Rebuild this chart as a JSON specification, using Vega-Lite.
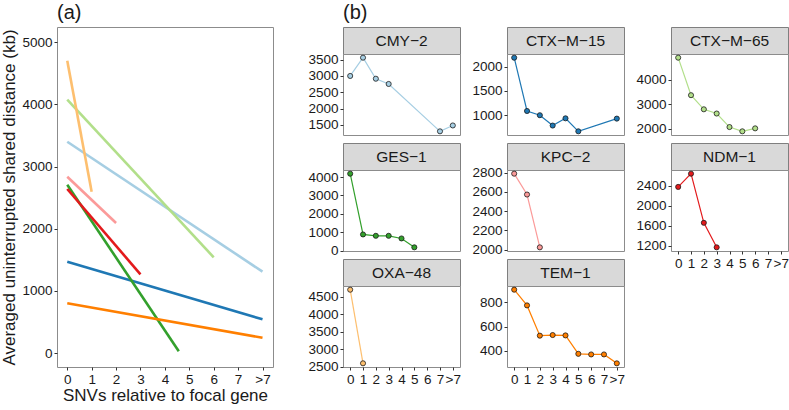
{
  "$schema": "https://vega.github.io/schema/vega-lite/v6.json",
  "padding": {"left": 0, "top": 2, "right": 0, "bottom": 0},
  "background": "white",
  "datasets": {
    "fit": [
      {"gene": "CMY−2", "snv": 0, "dist": 3400}, {"gene": "CMY−2", "snv": 8, "dist": 1309},
      {"gene": "CTX−M−15", "snv": 0, "dist": 1469}, {"gene": "CTX−M−15", "snv": 8, "dist": 542},
      {"gene": "CTX−M−65", "snv": 0, "dist": 4077}, {"gene": "CTX−M−65", "snv": 6, "dist": 1540},
      {"gene": "GES−1", "snv": 0, "dist": 2709}, {"gene": "GES−1", "snv": 4.57, "dist": 27},
      {"gene": "KPC−2", "snv": 0, "dist": 2837}, {"gene": "KPC−2", "snv": 2, "dist": 2092},
      {"gene": "NDM−1", "snv": 0, "dist": 2639}, {"gene": "NDM−1", "snv": 3, "dist": 1266},
      {"gene": "OXA−48", "snv": 0, "dist": 4704}, {"gene": "OXA−48", "snv": 1, "dist": 2596},
      {"gene": "TEM−1", "snv": 0, "dist": 800}, {"gene": "TEM−1", "snv": 8, "dist": 246}
    ],
    "obs": [
      {"gene": "CMY−2", "snv": 0, "dist": 3000}, {"gene": "CMY−2", "snv": 1, "dist": 3561}, {"gene": "CMY−2", "snv": 2, "dist": 2915}, {"gene": "CMY−2", "snv": 3, "dist": 2754}, {"gene": "CMY−2", "snv": 7, "dist": 1300}, {"gene": "CMY−2", "snv": 8, "dist": 1480},
      {"gene": "CTX−M−15", "snv": 0, "dist": 2183}, {"gene": "CTX−M−15", "snv": 1, "dist": 1087}, {"gene": "CTX−M−15", "snv": 2, "dist": 1000}, {"gene": "CTX−M−15", "snv": 3, "dist": 787}, {"gene": "CTX−M−15", "snv": 4, "dist": 936}, {"gene": "CTX−M−15", "snv": 5, "dist": 669}, {"gene": "CTX−M−15", "snv": 8, "dist": 930},
      {"gene": "CTX−M−65", "snv": 0, "dist": 4897}, {"gene": "CTX−M−65", "snv": 1, "dist": 3368}, {"gene": "CTX−M−65", "snv": 2, "dist": 2793}, {"gene": "CTX−M−65", "snv": 3, "dist": 2620}, {"gene": "CTX−M−65", "snv": 4, "dist": 2069}, {"gene": "CTX−M−65", "snv": 5, "dist": 1895}, {"gene": "CTX−M−65", "snv": 6, "dist": 2016},
      {"gene": "GES−1", "snv": 0, "dist": 4182}, {"gene": "GES−1", "snv": 1, "dist": 877}, {"gene": "GES−1", "snv": 2, "dist": 804}, {"gene": "GES−1", "snv": 3, "dist": 804}, {"gene": "GES−1", "snv": 4, "dist": 660}, {"gene": "GES−1", "snv": 5, "dist": 177},
      {"gene": "KPC−2", "snv": 0, "dist": 2790}, {"gene": "KPC−2", "snv": 1, "dist": 2573}, {"gene": "KPC−2", "snv": 2, "dist": 2024},
      {"gene": "NDM−1", "snv": 0, "dist": 2380}, {"gene": "NDM−1", "snv": 1, "dist": 2646}, {"gene": "NDM−1", "snv": 2, "dist": 1659}, {"gene": "NDM−1", "snv": 3, "dist": 1166},
      {"gene": "OXA−48", "snv": 0, "dist": 4706}, {"gene": "OXA−48", "snv": 1, "dist": 2596},
      {"gene": "TEM−1", "snv": 0, "dist": 902}, {"gene": "TEM−1", "snv": 1, "dist": 773}, {"gene": "TEM−1", "snv": 2, "dist": 525}, {"gene": "TEM−1", "snv": 3, "dist": 530}, {"gene": "TEM−1", "snv": 4, "dist": 527}, {"gene": "TEM−1", "snv": 5, "dist": 376}, {"gene": "TEM−1", "snv": 6, "dist": 371}, {"gene": "TEM−1", "snv": 7, "dist": 371}, {"gene": "TEM−1", "snv": 8, "dist": 298}
    ],
    "blank": [{"k": 1}]
  },
  "config": {
    "font": "Liberation Sans",
    "numberFormat": "d",
    "view": {"stroke": "#8C8C8C", "strokeWidth": 1},
    "range": {"category": ["#A6CEE3", "#1F78B4", "#B2DF8A", "#33A02C", "#FB9A99", "#E31A1C", "#FDBF6F", "#FF7F00"]},
    "axis": {"grid": false, "domain": false, "tickColor": "#333333", "tickSize": 3, "labelColor": "#1A1A1A", "labelFont": "Liberation Sans", "labelFontSize": 13.5, "labelPadding": 2, "titleFont": "Liberation Sans", "titleFontWeight": "normal", "titleFontSize": 17, "titleColor": "#1A1A1A", "labelFlush": false, "labelOverlap": false},
    "title": {"font": "Liberation Sans", "fontSize": 20, "fontWeight": "normal", "anchor": "start", "frame": "group", "color": "#1A1A1A", "offset": 4}
  },
  "spacing": 33,
  "hconcat": [
    {
      "title": {"text": "(a)"},
      "width": 216, "height": 340,
      "data": {"name": "fit"},
      "mark": {"type": "line", "strokeWidth": 2.6},
      "encoding": {
        "x": {"field": "snv", "type": "quantitative", "scale": {"domain": [-0.42, 8.43], "nice": false, "zero": false},
              "axis": {"values": [0, 1, 2, 3, 4, 5, 6, 7, 8], "labelExpr": "datum.value == 8 ? '>7' : datum.label", "title": "SNVs relative to focal gene", "titlePadding": 2}},
        "y": {"field": "dist", "type": "quantitative", "scale": {"domain": [-225, 5246], "nice": false, "zero": false},
              "axis": {"values": [0, 1000, 2000, 3000, 4000, 5000], "title": "Averaged uninterrupted shared distance (kb)", "titlePadding": 3}},
        "color": {"field": "gene", "type": "nominal", "legend": null},
        "detail": {"field": "gene"}
      }
    },
    {
      "title": {"text": "(b)"},
      "spacing": 9,
      "hconcat": [
        {
          "bounds": "flush", "spacing": 0,
          "vconcat": [
            {"width": 117, "height": 27, "view": {"fill": "#D9D9D9", "stroke": "#7F7F7F"}, "data": {"name": "obs"},
             "transform": [{"filter": "datum.gene === 'CMY−2'"}, {"aggregate": [{"op": "count", "as": "n"}], "groupby": ["gene"]}],
             "mark": {"type": "text", "fontSize": 15.5, "color": "#1A1A1A", "baseline": "middle"}, "encoding": {"text": {"field": "gene"}}},
            {"width": 117, "height": 81, "data": {"name": "obs"}, "transform": [{"filter": "datum.gene === 'CMY−2'"}],
             "encoding": {
               "x": {"field": "snv", "type": "quantitative", "scale": {"domain": [-0.56, 8.56], "nice": false, "zero": false}, "axis": null},
               "y": {"field": "dist", "type": "quantitative", "scale": {"domain": [1187, 3674], "nice": false, "zero": false}, "axis": {"values": [1500, 2000, 2500, 3000, 3500], "title": null}},
               "color": {"field": "gene", "type": "nominal", "legend": null}},
             "layer": [{"mark": {"type": "line", "strokeWidth": 1.2}}, {"mark": {"type": "point", "filled": true, "opacity": 1, "size": 26, "stroke": "#1A1A1A", "strokeWidth": 0.8}}]},
            {"width": 117, "height": 8, "view": {"stroke": null}, "data": {"name": "blank"}, "mark": {"type": "point", "opacity": 0}, "encoding": {}},
            {"width": 117, "height": 27, "view": {"fill": "#D9D9D9", "stroke": "#7F7F7F"}, "data": {"name": "obs"},
             "transform": [{"filter": "datum.gene === 'GES−1'"}, {"aggregate": [{"op": "count", "as": "n"}], "groupby": ["gene"]}],
             "mark": {"type": "text", "fontSize": 15.5, "color": "#1A1A1A", "baseline": "middle"}, "encoding": {"text": {"field": "gene"}}},
            {"width": 117, "height": 81, "data": {"name": "obs"}, "transform": [{"filter": "datum.gene === 'GES−1'"}],
             "encoding": {
               "x": {"field": "snv", "type": "quantitative", "scale": {"domain": [-0.56, 8.56], "nice": false, "zero": false}, "axis": null},
               "y": {"field": "dist", "type": "quantitative", "scale": {"domain": [-23, 4382], "nice": false, "zero": false}, "axis": {"values": [0, 1000, 2000, 3000, 4000], "title": null}},
               "color": {"field": "gene", "type": "nominal", "legend": null}},
             "layer": [{"mark": {"type": "line", "strokeWidth": 1.2}}, {"mark": {"type": "point", "filled": true, "opacity": 1, "size": 26, "stroke": "#1A1A1A", "strokeWidth": 0.8}}]},
            {"width": 117, "height": 8, "view": {"stroke": null}, "data": {"name": "blank"}, "mark": {"type": "point", "opacity": 0}, "encoding": {}},
            {"width": 117, "height": 27, "view": {"fill": "#D9D9D9", "stroke": "#7F7F7F"}, "data": {"name": "obs"},
             "transform": [{"filter": "datum.gene === 'OXA−48'"}, {"aggregate": [{"op": "count", "as": "n"}], "groupby": ["gene"]}],
             "mark": {"type": "text", "fontSize": 15.5, "color": "#1A1A1A", "baseline": "middle"}, "encoding": {"text": {"field": "gene"}}},
            {"width": 117, "height": 81, "data": {"name": "obs"}, "transform": [{"filter": "datum.gene === 'OXA−48'"}],
             "encoding": {
               "x": {"field": "snv", "type": "quantitative", "scale": {"domain": [-0.56, 8.56], "nice": false, "zero": false}, "axis": {"values": [0, 1, 2, 3, 4, 5, 6, 7, 8], "labelExpr": "datum.value == 8 ? '>7' : datum.label", "title": null}},
               "y": {"field": "dist", "type": "quantitative", "scale": {"domain": [2490, 4812], "nice": false, "zero": false}, "axis": {"values": [2500, 3000, 3500, 4000, 4500], "title": null}},
               "color": {"field": "gene", "type": "nominal", "legend": null}},
             "layer": [{"mark": {"type": "line", "strokeWidth": 1.2}}, {"mark": {"type": "point", "filled": true, "opacity": 1, "size": 26, "stroke": "#1A1A1A", "strokeWidth": 0.8}}]}
          ]
        },
        {
          "bounds": "flush", "spacing": 0,
          "vconcat": [
            {"width": 117, "height": 27, "view": {"fill": "#D9D9D9", "stroke": "#7F7F7F"}, "data": {"name": "obs"},
             "transform": [{"filter": "datum.gene === 'CTX−M−15'"}, {"aggregate": [{"op": "count", "as": "n"}], "groupby": ["gene"]}],
             "mark": {"type": "text", "fontSize": 15.5, "color": "#1A1A1A", "baseline": "middle"}, "encoding": {"text": {"field": "gene"}}},
            {"width": 117, "height": 81, "data": {"name": "obs"}, "transform": [{"filter": "datum.gene === 'CTX−M−15'"}],
             "encoding": {
               "x": {"field": "snv", "type": "quantitative", "scale": {"domain": [-0.56, 8.56], "nice": false, "zero": false}, "axis": null},
               "y": {"field": "dist", "type": "quantitative", "scale": {"domain": [593, 2259], "nice": false, "zero": false}, "axis": {"values": [1000, 1500, 2000], "title": null}},
               "color": {"field": "gene", "type": "nominal", "legend": null}},
             "layer": [{"mark": {"type": "line", "strokeWidth": 1.2}}, {"mark": {"type": "point", "filled": true, "opacity": 1, "size": 26, "stroke": "#1A1A1A", "strokeWidth": 0.8}}]},
            {"width": 117, "height": 8, "view": {"stroke": null}, "data": {"name": "blank"}, "mark": {"type": "point", "opacity": 0}, "encoding": {}},
            {"width": 117, "height": 27, "view": {"fill": "#D9D9D9", "stroke": "#7F7F7F"}, "data": {"name": "obs"},
             "transform": [{"filter": "datum.gene === 'KPC−2'"}, {"aggregate": [{"op": "count", "as": "n"}], "groupby": ["gene"]}],
             "mark": {"type": "text", "fontSize": 15.5, "color": "#1A1A1A", "baseline": "middle"}, "encoding": {"text": {"field": "gene"}}},
            {"width": 117, "height": 81, "data": {"name": "obs"}, "transform": [{"filter": "datum.gene === 'KPC−2'"}],
             "encoding": {
               "x": {"field": "snv", "type": "quantitative", "scale": {"domain": [-0.56, 8.56], "nice": false, "zero": false}, "axis": null},
               "y": {"field": "dist", "type": "quantitative", "scale": {"domain": [1986, 2828], "nice": false, "zero": false}, "axis": {"values": [2000, 2200, 2400, 2600, 2800], "title": null}},
               "color": {"field": "gene", "type": "nominal", "legend": null}},
             "layer": [{"mark": {"type": "line", "strokeWidth": 1.2}}, {"mark": {"type": "point", "filled": true, "opacity": 1, "size": 26, "stroke": "#1A1A1A", "strokeWidth": 0.8}}]},
            {"width": 117, "height": 8, "view": {"stroke": null}, "data": {"name": "blank"}, "mark": {"type": "point", "opacity": 0}, "encoding": {}},
            {"width": 117, "height": 27, "view": {"fill": "#D9D9D9", "stroke": "#7F7F7F"}, "data": {"name": "obs"},
             "transform": [{"filter": "datum.gene === 'TEM−1'"}, {"aggregate": [{"op": "count", "as": "n"}], "groupby": ["gene"]}],
             "mark": {"type": "text", "fontSize": 15.5, "color": "#1A1A1A", "baseline": "middle"}, "encoding": {"text": {"field": "gene"}}},
            {"width": 117, "height": 81, "data": {"name": "obs"}, "transform": [{"filter": "datum.gene === 'TEM−1'"}],
             "encoding": {
               "x": {"field": "snv", "type": "quantitative", "scale": {"domain": [-0.56, 8.56], "nice": false, "zero": false}, "axis": {"values": [0, 1, 2, 3, 4, 5, 6, 7, 8], "labelExpr": "datum.value == 8 ? '>7' : datum.label", "title": null}},
               "y": {"field": "dist", "type": "quantitative", "scale": {"domain": [268, 932], "nice": false, "zero": false}, "axis": {"values": [400, 600, 800], "title": null}},
               "color": {"field": "gene", "type": "nominal", "legend": null}},
             "layer": [{"mark": {"type": "line", "strokeWidth": 1.2}}, {"mark": {"type": "point", "filled": true, "opacity": 1, "size": 26, "stroke": "#1A1A1A", "strokeWidth": 0.8}}]}
          ]
        },
        {
          "bounds": "flush", "spacing": 0,
          "vconcat": [
            {"width": 117, "height": 27, "view": {"fill": "#D9D9D9", "stroke": "#7F7F7F"}, "data": {"name": "obs"},
             "transform": [{"filter": "datum.gene === 'CTX−M−65'"}, {"aggregate": [{"op": "count", "as": "n"}], "groupby": ["gene"]}],
             "mark": {"type": "text", "fontSize": 15.5, "color": "#1A1A1A", "baseline": "middle"}, "encoding": {"text": {"field": "gene"}}},
            {"width": 117, "height": 81, "data": {"name": "obs"}, "transform": [{"filter": "datum.gene === 'CTX−M−65'"}],
             "encoding": {
               "x": {"field": "snv", "type": "quantitative", "scale": {"domain": [-0.56, 8.56], "nice": false, "zero": false}, "axis": null},
               "y": {"field": "dist", "type": "quantitative", "scale": {"domain": [1745, 5047], "nice": false, "zero": false}, "axis": {"values": [2000, 3000, 4000], "title": null}},
               "color": {"field": "gene", "type": "nominal", "legend": null}},
             "layer": [{"mark": {"type": "line", "strokeWidth": 1.2}}, {"mark": {"type": "point", "filled": true, "opacity": 1, "size": 26, "stroke": "#1A1A1A", "strokeWidth": 0.8}}]},
            {"width": 117, "height": 8, "view": {"stroke": null}, "data": {"name": "blank"}, "mark": {"type": "point", "opacity": 0}, "encoding": {}},
            {"width": 117, "height": 27, "view": {"fill": "#D9D9D9", "stroke": "#7F7F7F"}, "data": {"name": "obs"},
             "transform": [{"filter": "datum.gene === 'NDM−1'"}, {"aggregate": [{"op": "count", "as": "n"}], "groupby": ["gene"]}],
             "mark": {"type": "text", "fontSize": 15.5, "color": "#1A1A1A", "baseline": "middle"}, "encoding": {"text": {"field": "gene"}}},
            {"width": 117, "height": 81, "data": {"name": "obs"}, "transform": [{"filter": "datum.gene === 'NDM−1'"}],
             "encoding": {
               "x": {"field": "snv", "type": "quantitative", "scale": {"domain": [-0.56, 8.56], "nice": false, "zero": false}, "axis": {"values": [0, 1, 2, 3, 4, 5, 6, 7, 8], "labelExpr": "datum.value == 8 ? '>7' : datum.label", "title": null}},
               "y": {"field": "dist", "type": "quantitative", "scale": {"domain": [1092, 2720], "nice": false, "zero": false}, "axis": {"values": [1200, 1600, 2000, 2400], "title": null}},
               "color": {"field": "gene", "type": "nominal", "legend": null}},
             "layer": [{"mark": {"type": "line", "strokeWidth": 1.2}}, {"mark": {"type": "point", "filled": true, "opacity": 1, "size": 26, "stroke": "#1A1A1A", "strokeWidth": 0.8}}]}
          ]
        }
      ]
    }
  ]
}
